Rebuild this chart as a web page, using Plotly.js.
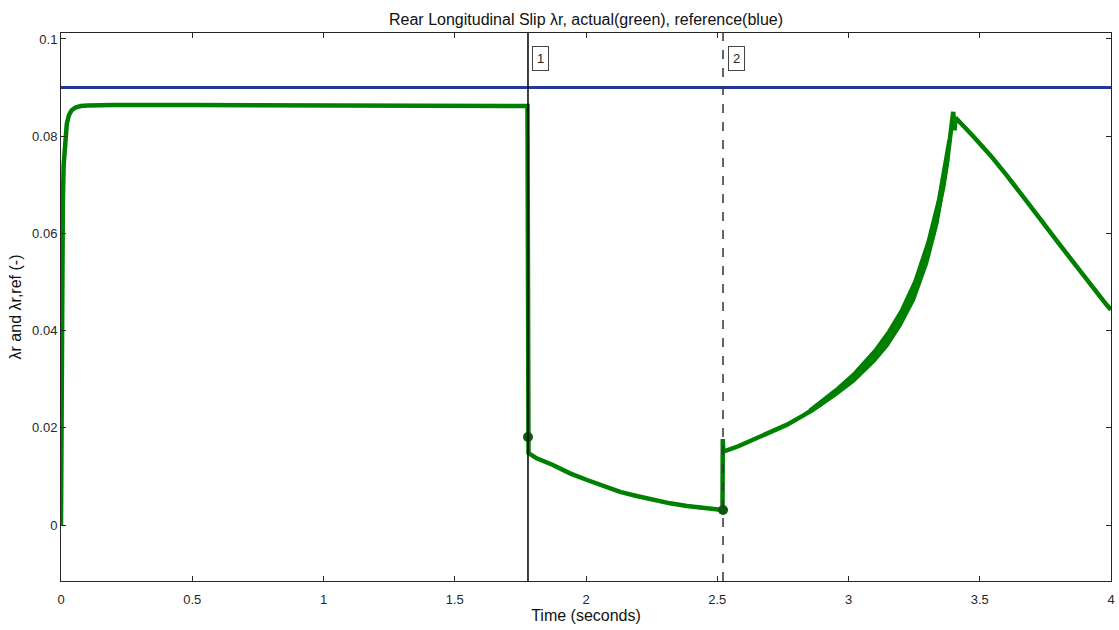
<!DOCTYPE html>
<html>
<head>
<meta charset="utf-8">
<script src="https://cdn.plot.ly/plotly-3.0.1.min.js"></script>
<style>html,body{margin:0;padding:0;background:#fff;}#chart{width:1119px;height:630px;}</style>
</head>
<body>
<div id="chart"></div>
<script>
// Actual rear slip (green)
var slipT = [0, 0.002, 0.004, 0.007, 0.010, 0.015, 0.022, 0.030, 0.040, 0.055, 0.075, 0.100, 0.200,
  0.5, 1.0, 1.5, 1.777,
  1.781, 1.812, 1.874, 1.939, 2.004, 2.066, 2.130, 2.193, 2.255, 2.320, 2.385, 2.447, 2.510, 2.520,
  2.521, 2.523,
  2.580, 2.637, 2.700, 2.764, 2.830, 2.891, 2.950, 3.018, 3.080, 3.145, 3.180, 3.209, 3.240, 3.272,
  3.300, 3.323, 3.340, 3.361, 3.375, 3.387, 3.399, 3.404, 3.408,
  3.475, 3.540, 3.602, 3.670, 3.730, 3.790, 3.856, 3.920, 3.983, 4.0];
var slipY = [0, 0.030, 0.052, 0.066, 0.074, 0.079, 0.0825, 0.0843, 0.0853, 0.0859, 0.0862, 0.0863, 0.0864,
  0.0864, 0.0863, 0.0863, 0.0862,
  0.0148, 0.01372, 0.01235, 0.01063, 0.00926, 0.00802, 0.0068, 0.00597, 0.00514, 0.00446, 0.0039, 0.00357, 0.0033, 0.0031,
  0.0177, 0.0151,
  0.0162, 0.0175, 0.0190, 0.0206, 0.0226, 0.0247, 0.0272, 0.0302, 0.0338, 0.0381, 0.0410, 0.0436, 0.0474, 0.0518,
  0.0556, 0.0600, 0.0645, 0.0696, 0.0745, 0.0792, 0.0850, 0.0812, 0.0838,
  0.0800, 0.0761, 0.0720, 0.0674, 0.0630, 0.0587, 0.0540, 0.0495, 0.0453, 0.0443];
// Oscillation envelope on the rising section
var bandT  = [2.85, 2.95, 3.02, 3.10, 3.15, 3.20, 3.25, 3.30, 3.34, 3.38];
var bandHi = [0.0237, 0.0279, 0.0313, 0.0361, 0.0398, 0.0443, 0.0501, 0.0582, 0.0668, 0.0792];
var bandLo = [0.0229, 0.0266, 0.0295, 0.0337, 0.0369, 0.0411, 0.0463, 0.0538, 0.0622, 0.0748];
// Reference slip (blue)
var refT = [0, 4];
var refY = [0.09, 0.09];
// Cursor markers
var cursorT = [1.779, 2.522];
var cursorLabels = ['1', '2'];
var markerT = [1.779, 2.522];
var markerY = [0.0181, 0.0031];
// Tick labels
var xTickVals = [0, 0.5, 1, 1.5, 2, 2.5, 3, 3.5, 4];
var xTickText = ['0', '0.5', '1', '1.5', '2', '2.5', '3', '3.5', '4'];
var yTickVals = [0, 0.02, 0.04, 0.06, 0.08, 0.1];
var yTickText = ['0', '0.02', '0.04', '0.06', '0.08', '0.1'];

var green = '#008000';
var FONT = 'Liberation Sans, Arial, sans-serif';
var traces = [
  {x: refT, y: refY, mode: 'lines', line: {color: '#23399a', width: 3}, hoverinfo: 'skip'},
  {x: bandT.concat(bandT.slice().reverse()), y: bandHi.concat(bandLo.slice().reverse()),
   mode: 'lines', fill: 'toself', fillcolor: green, line: {color: green, width: 2}, hoverinfo: 'skip'},
  {x: slipT, y: slipY, mode: 'lines', line: {color: green, width: 4.5}, hoverinfo: 'skip'},
  {x: markerT, y: markerY, mode: 'markers', marker: {color: '#0b5a0b', size: 10}, hoverinfo: 'skip'}
];

var shapes = [
  {type: 'line', xref: 'x', yref: 'paper', x0: cursorT[0], x1: cursorT[0], y0: 0, y1: 1,
   line: {color: '#000', width: 1.5}},
  {type: 'line', xref: 'x', yref: 'paper', x0: cursorT[1], x1: cursorT[1], y0: 0, y1: 1,
   line: {color: '#333', width: 1.5, dash: 'dash'}}
];
var annotations = cursorT.map(function (t, i) {
  return {x: t, xref: 'x', y: 0.976, yref: 'paper', text: cursorLabels[i], showarrow: false,
    xshift: 13, bordercolor: '#444', borderwidth: 1, borderpad: 4, bgcolor: '#fff',
    font: {family: FONT, size: 13, color: '#222'}};
});

var axisCommon = {
  showgrid: false, zeroline: false, showline: true, linecolor: '#262626', linewidth: 1,
  mirror: 'ticks', ticks: 'inside', ticklen: 5, tickcolor: '#262626',
  tickfont: {family: FONT, size: 13, color: '#262626'}
};

var layout = {
  width: 1119, height: 630,
  margin: {l: 61, r: 8, t: 33, b: 49},
  paper_bgcolor: '#fff', plot_bgcolor: '#fff',
  showlegend: false,
  title: {text: 'Rear Longitudinal Slip λr, actual(green), reference(blue)',
    x: 0.5237, xanchor: 'center', y: 0.97, yanchor: 'middle',
    font: {family: FONT, size: 16, color: '#111'}},
  xaxis: Object.assign({}, axisCommon, {
    range: [0, 4], tickvals: xTickVals, ticktext: xTickText, ticklabelstandoff: 6,
    title: {text: 'Time (seconds)', standoff: 4,
      font: {family: FONT, size: 16, color: '#111'}}
  }),
  yaxis: Object.assign({}, axisCommon, {
    range: [-0.01152, 0.10123], tickvals: yTickVals, ticktext: yTickText,
    title: {text: 'λr and λr,ref (-)', standoff: 6,
      font: {family: FONT, size: 16, color: '#111'}}
  }),
  shapes: shapes,
  annotations: annotations
};

Plotly.newPlot('chart', traces, layout, {displayModeBar: false, staticPlot: true});
</script>
</body>
</html>
